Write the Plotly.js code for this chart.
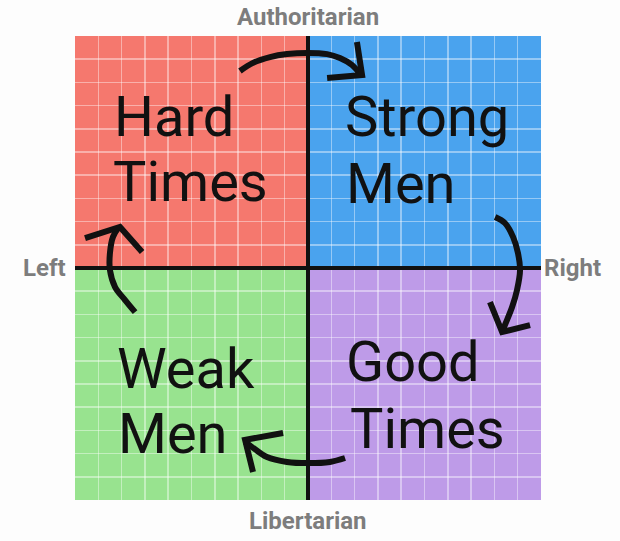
<!DOCTYPE html>
<html>
<head>
<meta charset="utf-8">
<script src="https://cdn.plot.ly/plotly-3.0.1.min.js"></script>
<style>
  html, body { margin: 0; padding: 0; background: #fdfdfd; }
  #chart { width: 620px; height: 541px; }
</style>
</head>
<body>
<div id="chart"></div>
<script>
// Quadrants of the compass
const quadrantX0     = [-10, 0, -10, 0];
const quadrantX1     = [0, 10, 0, 10];
const quadrantY0     = [0, 0, -10, -10];
const quadrantY1     = [10, 10, 0, 0];
const quadrantColors = ["#f5786e", "#4aa3ee", "#98e38f", "#be9be8"];

// Quadrant captions, one entry per line of text
const labelText = ["Hard", "Times", "Strong", "Men", "Weak", "Men", "Good", "Times"];
const labelX    = [-8.4, -8.45, 1.5, 1.55, -8.3, -8.25, 1.55, 1.7];
const labelY    = [6.51, 3.71, 6.51, 3.62, -4.35, -7.16, -4.05, -6.94];

// Axis captions
const axisCaptions = ["Authoritarian", "Libertarian", "Left", "Right"];

// Hand-drawn arrows (curve + head), in compass units
const arrowTopX   = [-2.92, -2.36, -1.63, -0.90, -0.04, 0.82, 1.37, 1.89, 2.23];
const arrowTopY   = [8.49, 8.84, 9.09, 9.22, 9.27, 9.22, 9.05, 8.75, 8.36];
const headTopX    = [2.10, 2.32, 0.82];
const headTopY    = [9.74, 8.32, 8.19];

const arrowRightX = [8.03, 8.45, 8.80, 9.01, 9.10, 8.97, 8.76, 8.45, 8.33];
const arrowRightY = [2.20, 1.94, 1.34, 0.65, -0.09, -0.95, -1.68, -2.46, -2.76];
const headRightX  = [7.81, 8.33, 9.53];
const headRightY  = [-1.47, -2.76, -2.46];

const arrowBottomX = [1.59, 0.94, 0.00, -0.90, -1.76, -2.40, -2.70];
const arrowBottomY = [-8.19, -8.36, -8.41, -8.36, -8.15, -7.72, -7.50];
const headBottomX  = [-2.36, -2.70, -1.07];
const headBottomY  = [-8.79, -7.41, -7.11];

const arrowLeftX = [-7.42, -7.85, -8.28, -8.50, -8.50, -8.37, -8.15];
const arrowLeftY = [-1.90, -1.38, -0.82, -0.09, 0.65, 1.34, 1.72];
const headLeftX  = [-9.57, -8.07, -7.12];
const headLeftY  = [1.29, 1.77, 0.69];

const INK = "#111111";
const CAPTION = "#7d7d7d";
const FONT = "Roboto, 'Liberation Sans', sans-serif";

function stroke(x, y, smooth) {
    return {
        x, y,
        type: "scatter",
        mode: "lines",
        line: { color: INK, width: 6, shape: smooth ? "spline" : "linear" },
        hoverinfo: "skip",
    };
}

const traces = [
    stroke(arrowTopX, arrowTopY, true),       stroke(headTopX, headTopY, false),
    stroke(arrowRightX, arrowRightY, true),   stroke(headRightX, headRightY, false),
    stroke(arrowBottomX, arrowBottomY, true), stroke(headBottomX, headBottomY, false),
    stroke(arrowLeftX, arrowLeftY, true),     stroke(headLeftX, headLeftY, false),
];

const shapes = quadrantColors.map((c, i) => ({
    type: "rect", xref: "x", yref: "y", layer: "below",
    x0: quadrantX0[i], x1: quadrantX1[i], y0: quadrantY0[i], y1: quadrantY1[i],
    fillcolor: c, line: { width: 0 },
}));

const labelAnnotations = labelText.map((t, i) => ({
    text: t, x: labelX[i], y: labelY[i], xref: "x", yref: "y",
    xanchor: "left", yanchor: "middle", showarrow: false,
    font: { family: FONT, size: 56, color: INK },
}));

const captionFont = { family: FONT, size: 24, color: CAPTION, weight: 700 };
const captionAnnotations = [
    { text: axisCaptions[0], x: 0.5, y: 1, xref: "paper", yref: "paper", yanchor: "bottom", yshift: 3 },
    { text: axisCaptions[1], x: 0.5, y: 0, xref: "paper", yref: "paper", yanchor: "top", yshift: -5 },
    { text: axisCaptions[2], x: 0, y: 0.5, xref: "paper", yref: "paper", xanchor: "right", xshift: -7 },
    { text: axisCaptions[3], x: 1, y: 0.5, xref: "paper", yref: "paper", xanchor: "left", xshift: 1 },
].map(a => Object.assign({ showarrow: false, font: captionFont }, a));

const axisCommon = {
    range: [-10, 10],
    dtick: 1,
    showgrid: true,
    gridcolor: "rgba(255,255,255,0.42)",
    gridwidth: 1.5,
    zeroline: true,
    zerolinecolor: INK,
    zerolinewidth: 4,
    showticklabels: false,
    ticks: "",
    showline: false,
    fixedrange: true,
};

const layout = {
    width: 620,
    height: 541,
    margin: { l: 75, r: 79, t: 36, b: 41 },
    paper_bgcolor: "#fdfdfd",
    plot_bgcolor: "#fdfdfd",
    showlegend: false,
    xaxis: Object.assign({}, axisCommon),
    yaxis: Object.assign({}, axisCommon),
    shapes,
    annotations: labelAnnotations.concat(captionAnnotations),
};

Plotly.newPlot("chart", traces, layout, { displayModeBar: false, staticPlot: true });
</script>
</body>
</html>
